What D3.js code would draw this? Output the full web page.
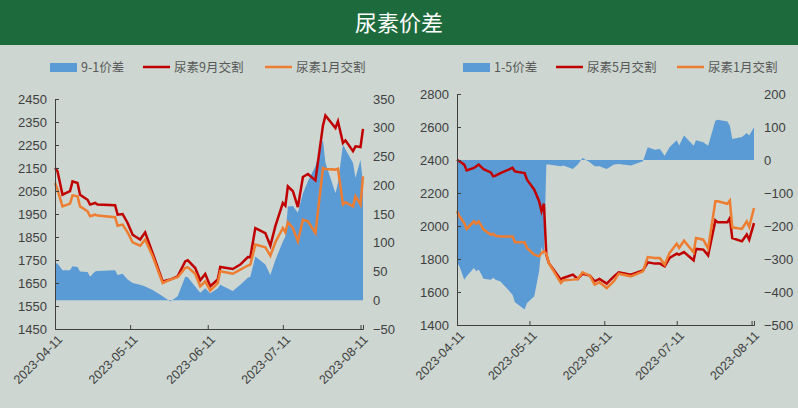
<!DOCTYPE html>
<html><head><meta charset="utf-8">
<script src="https://cdn.jsdelivr.net/npm/d3@7"></script>
<style>body{margin:0;background:#cdd6d0;font-family:"Noto Sans CJK SC","Noto Sans",sans-serif}</style>
</head><body><svg id="c" width="798" height="408"></svg>
<script>
// left panel: 9-1 spread
const datesL = ["04-11","04-12","04-14","04-17","04-18","04-20","04-21","04-24","04-25","04-27","04-28","05-05","05-06","05-08","05-10","05-12","05-15","05-17","05-20","05-24","05-27","05-30","06-02","06-03","06-06","06-08","06-10","06-12","06-15","06-16","06-21","06-24","06-27","06-28","06-30","07-04","07-06","07-08","07-11","07-12","07-13","07-15","07-17","07-19","07-21","07-24","07-27","07-28","08-01","08-02","08-04","08-05","08-08","08-09","08-11","08-12"];
const sep9 = [2150,2136,2034,2049,2092,2085,2034,2012,1991,1998,1991,1988,1947,1950,1911,1860,1839,1870,1780,1657,1665,1679,1744,1749,1715,1662,1689,1636,1665,1720,1711,1730,1763,1762,1889,1867,1812,1897,1998,1986,2070,2049,1980,2111,2124,2096,2334,2378,2324,2353,2259,2270,2223,2244,2241,2320];
const jan1L = [2085,2056,1983,1995,2031,2027,1983,1962,1940,1947,1943,1936,1899,1904,1870,1827,1812,1839,1766,1650,1665,1675,1715,1719,1690,1636,1657,1618,1650,1701,1690,1708,1726,1730,1817,1805,1769,1827,1889,1870,1914,1889,1831,1925,1918,1867,2150,2146,2143,2147,1991,2001,1983,2027,1991,2114];
const spread91 = [64,64,52,52,59,58,50,49,41,50,51,52,44,46,36,30,27,24,18,7,-2,7,41,40,24,13,21,12,21,27,16,27,39,41,76,62,44,70,102,111,163,164,152,186,207,233,279,239,186,204,271,262,239,213,244,204];

// right panel: 1-5 spread
const datesR = ["04-11","04-12","04-14","04-15","04-18","04-19","04-20","04-22","04-25","04-26","04-27","04-29","05-04","05-05","05-09","05-10","05-13","05-15","05-16","05-17","05-18","05-19","05-24","05-25","05-29","05-31","06-02","06-05","06-07","06-09","06-12","06-15","06-17","06-22","06-27","06-29","07-02","07-04","07-06","07-08","07-11","07-12","07-14","07-18","07-19","07-22","07-24","07-27","07-28","08-01","08-02","08-03","08-07","08-09","08-10","08-12"];
const may5 = [2402,2392,2372,2337,2352,2362,2372,2345,2325,2301,2305,2321,2352,2331,2321,2281,2220,2150,2089,2135,1826,1776,1675,1685,1705,1679,1711,1699,1665,1679,1651,1695,1719,1705,1731,1780,1772,1772,1756,1806,1832,1826,1842,1792,1861,1857,1822,2034,2022,2022,2048,1927,1907,1948,1917,2018];
const jan1R = [2089,2059,2018,1982,2028,2014,2028,1978,1948,1952,1941,1937,1937,1901,1901,1867,1826,1816,1836,1847,1832,1776,1655,1671,1675,1679,1719,1699,1645,1659,1624,1665,1711,1695,1725,1812,1806,1806,1766,1836,1893,1867,1911,1840,1927,1917,1863,2150,2150,2135,2154,1992,1982,2028,1994,2109];
const spread15 = [-312,-322,-363,-352,-327,-337,-332,-360,-363,-357,-363,-368,-408,-431,-453,-433,-413,-337,-262,-290,-14,-14,-19,-17,-27,-14,6,-7,-19,-19,-27,-14,-12,-17,-4,39,31,33,13,39,60,44,74,43,60,54,43,119,122,117,104,64,70,82,74,99];

const xTicks = ["04-11","05-11","06-11","07-11","08-11"];
const parse = s => d3.timeParse("%Y-%m-%d")("2023-" + s);

const svg = d3.select("#c");
svg.append("rect").attr("width", 798).attr("height", 45).attr("fill", "#1d6b3d");
svg.append("text").attr("x", 399).attr("y", 31).attr("text-anchor", "middle")
  .attr("fill", "#fff").attr("font-size", 22).text("尿素价差");

function panel(o) {
  const g = svg.append("g");
  const x = d3.scaleTime().domain([parse("04-11"), parse("08-12")]).range([o.x0, o.x1]);
  const yL = d3.scaleLinear().domain(o.dL).range([o.yb, o.yt]);
  const yR = d3.scaleLinear().domain(o.dR).range([o.yb, o.yt]);
  const pts = o.dates.map(parse);

  g.append("path").datum(o.spread)
    .attr("fill", "#5b9bd5")
    .attr("d", d3.area().x((d, i) => x(pts[i])).y0(yR(0)).y1(d => yR(d)));

  const line = d3.line().x((d, i) => x(pts[i])).y(d => yL(d));
  g.append("path").datum(o.a).attr("fill", "none").attr("stroke", "#c00000").attr("stroke-width", 2.5).attr("d", line);
  g.append("path").datum(o.b).attr("fill", "none").attr("stroke", "#ed7d31").attr("stroke-width", 2.5).attr("d", line);

  const ax = g.append("g").attr("transform", `translate(${o.x0},0)`)
    .call(d3.axisLeft(yL).tickValues(d3.range(o.dL[0], o.dL[1] + 1, o.stepL)).tickFormat(d3.format("d")).tickSize(-4).tickPadding(8));
  const ar = g.append("g").attr("transform", `translate(${o.x1 + 2},0)`)
    .call(d3.axisRight(yR).tickValues(d3.range(o.dR[0], o.dR[1] + 1, o.stepR)).tickFormat(d3.format("d")).tickSize(0).tickPadding(8));
  ar.select(".domain").remove();
  const ab = g.append("g").attr("transform", `translate(0,${o.yb})`)
    .call(d3.axisBottom(x).tickValues(xTicks.map(parse)).tickFormat(d3.timeFormat("%Y-%m-%d")).tickSize(-4).tickPadding(6));
  ab.selectAll("text").attr("text-anchor", "end").attr("transform", "rotate(-45)").attr("dx", "-0.2em").attr("dy", "0.6em");
  [ax, ar, ab].forEach(a => {
    a.selectAll("text").attr("fill", "#404040").attr("font-size", 13).attr("font-family", "Liberation Sans, sans-serif");
    a.selectAll("line,path").attr("stroke", "#404040");
  });
  ab.selectAll("text").attr("font-size", 12.5);

  const lg = g.append("g").attr("font-size", 12.5).attr("fill", "#595959");
  const ly = 67;
  lg.append("rect").attr("x", o.lx[0]).attr("y", ly - 4).attr("width", 27).attr("height", 9).attr("fill", "#5b9bd5");
  lg.append("line").attr("x1", o.lx[1]).attr("x2", o.lx[1] + 27).attr("y1", ly).attr("y2", ly).attr("stroke", "#c00000").attr("stroke-width", 2.5);
  lg.append("line").attr("x1", o.lx[2]).attr("x2", o.lx[2] + 27).attr("y1", ly).attr("y2", ly).attr("stroke", "#ed7d31").attr("stroke-width", 2.5);
  o.names.forEach((n, i) => lg.append("text").attr("x", o.lx[i] + 31).attr("y", ly + 4.5).text(n));
}

panel({x0: 55, x1: 363, yt: 99, yb: 329, dL: [1450, 2450], stepL: 100, dR: [-50, 350], stepR: 50,
  dates: datesL, a: sep9, b: jan1L, spread: spread91,
  lx: [50, 143, 265], names: ["9-1价差", "尿素9月交割", "尿素1月交割"]});
panel({x0: 457, x1: 754, yt: 94, yb: 325, dL: [1400, 2800], stepL: 200, dR: [-500, 200], stepR: 100,
  dates: datesR, a: may5, b: jan1R, spread: spread15,
  lx: [463, 556, 677], names: ["1-5价差", "尿素5月交割", "尿素1月交割"]});
</script></body></html>
